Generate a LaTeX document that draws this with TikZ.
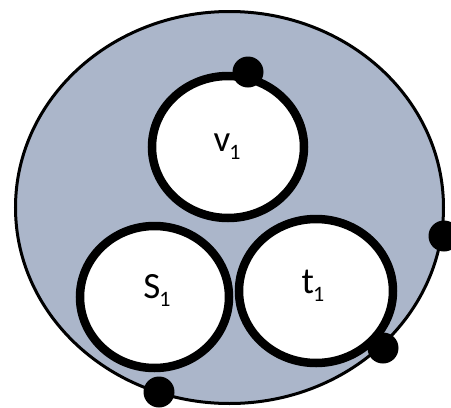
\documentclass[tikz,border=0pt]{standalone}
\usepackage{fontspec}
\setmainfont{Carlito}
\usetikzlibrary{shapes.geometric}
\definecolor{plate}{RGB}{171,182,202}
\newcommand{\subone}{\kern-1pt\raisebox{-8pt}{\fontsize{22}{26}\selectfont 1}}
\tikzset{
  outer/.style = {draw, ellipse, fill=plate, line width=3pt, inner sep=0pt},
  ring/.style  = {draw, ellipse, fill=white, line width=8.5pt, inner sep=0pt},
  blob/.style  = {circle, fill=black, minimum size=31pt, inner sep=0pt},
  lbl/.style   = {anchor=base, inner sep=0pt, font=\fontsize{37}{44}\selectfont},
}
\begin{document}
\begin{tikzpicture}[x=1pt, y=-1pt]
  \useasboundingbox (0,0) rectangle (451,408);
  % outer region
  \node[outer, minimum width=428pt, minimum height=392pt] (disk) at (229.5,207.5) {};
  % the three holes
  \node[ring, minimum width=152pt, minimum height=142pt] (v1) at (228,147) {};
  \node[ring, minimum width=149pt, minimum height=142pt] (s1) at (154.5,297) {};
  \node[ring, minimum width=154pt, minimum height=144pt] (t1) at (316,291) {};
  \node[lbl] (v1l) at (227,151) {v\subone};
  \node[lbl] (s1l) at (157,298) {S\subone};
  \node[lbl] (t1l) at (313,293) {t\subone};
  % marked points
  \node[blob] (d1) at (248,72) {};
  \node[blob] (d2) at (444,236) {};
  \node[blob] (d3) at (383,348) {};
  \node[blob] (d4) at (159,392) {};
\end{tikzpicture}
\end{document}
